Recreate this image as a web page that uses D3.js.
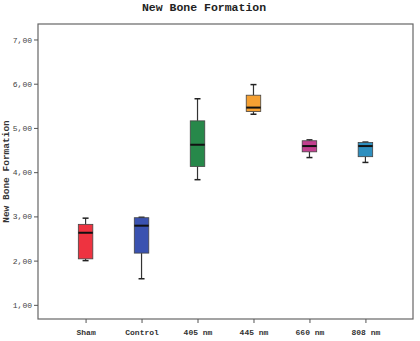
<!DOCTYPE html>
<html><head><meta charset="utf-8">
<script src="https://cdn.jsdelivr.net/npm/d3@7"></script>
<style>body{margin:0;background:#fff}svg{display:block}</style>
</head><body>
<svg id="c" width="420" height="341"></svg>
<script>
const categories = ["Sham","Control","405 nm","445 nm","660 nm","808 nm"];
const whiskerLow  = [2.00, 1.59, 3.83, 5.31, 4.33, 4.22];
const q1          = [2.04, 2.17, 4.13, 5.37, 4.46, 4.35];
const median      = [2.63, 2.79, 4.62, 5.46, 4.59, 4.59];
const q3          = [2.82, 2.97, 5.16, 5.74, 4.71, 4.67];
const whiskerHigh = [2.96, 2.98, 5.66, 5.98, 4.73, 4.68];
const colors = ["#ee3340","#3a52b0","#27884a","#f5a032","#c2408f","#2e8fbf"];
const yTicks = [1,2,3,4,5,6,7];

const svg = d3.select("#c");
const L = 38, R = 413, T = 24, B = 319;
const x = d3.scalePoint().domain(categories).range([L, R]).padding(0.85);
const y = d3.scaleLinear().domain([0.68, 7.35]).range([B, T]);
const font = "'Liberation Mono','DejaVu Sans Mono',monospace";

svg.append("text").attr("x", 204).attr("y", 11).attr("text-anchor","middle")
  .attr("font-family", font).attr("font-weight","bold").attr("font-size", 11.5).attr("fill","#222")
  .text("New Bone Formation");

svg.append("rect").attr("x", L).attr("y", T).attr("width", R-L).attr("height", B-T)
  .attr("fill","none").attr("stroke","#666").attr("stroke-width",1.2);

const ya = svg.append("g").attr("transform",`translate(${L},0)`)
  .call(d3.axisLeft(y).tickValues(yTicks).tickSize(4).tickSizeOuter(0)
    .tickFormat(d => d3.format(".2f")(d).replace(".", ",")));
ya.select(".domain").remove();
ya.selectAll("line").attr("stroke","#555");
ya.selectAll("text").attr("font-family", font).attr("font-size", 8).attr("fill","#444").attr("dx", 1);

const xa = svg.append("g").attr("transform",`translate(0,${B})`)
  .call(d3.axisBottom(x).tickSize(4).tickSizeOuter(0));
xa.select(".domain").remove();
xa.selectAll("line").attr("stroke","#555");
xa.selectAll("text").attr("font-family", font).attr("font-weight","bold").attr("font-size", 8).attr("fill","#333").attr("dy", "1.1em");

svg.append("text").attr("transform",`translate(9,${(T+B)/2}) rotate(-90)`)
  .attr("text-anchor","middle").attr("font-family", font).attr("font-weight","bold")
  .attr("font-size", 9.5).attr("fill","#333").text("New Bone Formation");

const bw = 14.5, cap = 3;
categories.forEach((c, i) => {
  const cx = x(c);
  const g = svg.append("g");
  g.append("line").attr("x1",cx).attr("x2",cx).attr("y1",y(whiskerHigh[i])).attr("y2",y(q3[i])).attr("stroke","#333").attr("stroke-width",1.2);
  g.append("line").attr("x1",cx).attr("x2",cx).attr("y1",y(q1[i])).attr("y2",y(whiskerLow[i])).attr("stroke","#333").attr("stroke-width",1.2);
  g.append("line").attr("x1",cx-cap).attr("x2",cx+cap).attr("y1",y(whiskerHigh[i])).attr("y2",y(whiskerHigh[i])).attr("stroke","#222").attr("stroke-width",1.5);
  g.append("line").attr("x1",cx-cap).attr("x2",cx+cap).attr("y1",y(whiskerLow[i])).attr("y2",y(whiskerLow[i])).attr("stroke","#222").attr("stroke-width",1.5);
  g.append("rect").attr("x",cx-bw/2).attr("width",bw).attr("y",y(q3[i])).attr("height",y(q1[i])-y(q3[i]))
    .attr("fill",colors[i]).attr("stroke","#444").attr("stroke-width",0.8);
  g.append("line").attr("x1",cx-bw/2).attr("x2",cx+bw/2).attr("y1",y(median[i])).attr("y2",y(median[i])).attr("stroke","#111").attr("stroke-width",2);
});
</script>
</body></html>
